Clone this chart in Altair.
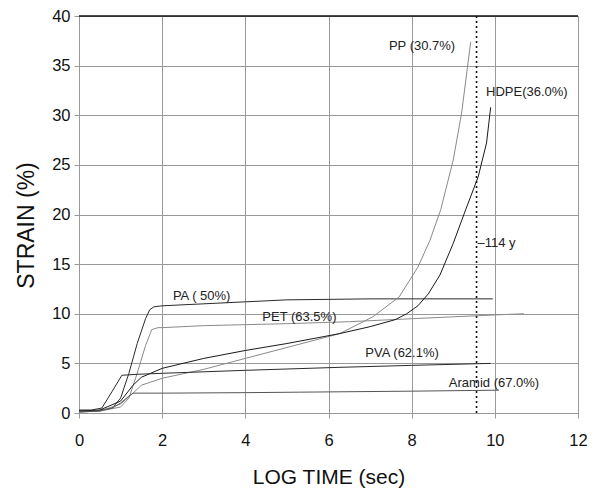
import altair as alt
import pandas as pd

# --- data ---
pa_x = [0.0, 0.4, 0.8, 1.0, 1.2, 1.4, 1.6, 1.7, 1.8, 2.0, 3.0, 4.0, 5.0, 7.0, 9.95]
pa_y = [0.2, 0.2, 0.5, 1.5, 4.0, 7.0, 9.5, 10.4, 10.7, 10.8, 11.0, 11.2, 11.4, 11.5, 11.5]

pet_x = [0.0, 0.5, 1.0, 1.2, 1.4, 1.6, 1.75, 1.9, 2.0, 3.0, 4.0, 5.0, 6.5, 8.0, 10.1, 10.7]
pet_y = [0.1, 0.2, 0.6, 1.5, 4.0, 6.8, 8.4, 8.6, 8.6, 8.8, 8.9, 9.0, 9.2, 9.5, 9.9, 10.0]

pp_x = [0.0, 0.5, 1.0, 1.3, 1.5, 2.0, 3.0, 4.0, 5.0, 6.27, 7.07, 7.7, 8.15, 8.44, 8.7, 9.0, 9.2, 9.42]
pp_y = [0.1, 0.2, 0.9, 2.0, 2.8, 3.5, 4.4, 5.5, 6.6, 8.0, 9.7, 11.7, 14.7, 17.4, 20.5, 25.5, 30.2, 37.4]

hdpe_x = [0.0, 0.5, 1.0, 1.3, 1.5, 2.0, 3.0, 4.0, 5.0, 6.27, 7.0, 7.6, 7.88, 8.15, 8.4, 8.68, 9.0, 9.3, 9.6, 9.8, 9.9]
hdpe_y = [0.2, 0.3, 1.2, 2.8, 3.6, 4.5, 5.5, 6.3, 7.0, 8.0, 8.7, 9.4, 10.0, 10.8, 12.0, 13.9, 17.1, 20.5, 23.8, 27.2, 30.8]

pva_x = [0.0, 0.3, 0.55, 0.8, 1.03, 1.4, 2.0, 4.0, 6.25, 8.0, 9.9]
pva_y = [0.3, 0.3, 0.5, 2.2, 3.8, 3.9, 4.0, 4.3, 4.6, 4.8, 5.0]

aramid_x = [0.0, 0.5, 0.8, 1.0, 1.2, 1.3, 2.0, 4.0, 5.3, 8.0, 10.1]
aramid_y = [0.1, 0.2, 0.5, 1.0, 1.7, 2.0, 2.0, 2.05, 2.1, 2.2, 2.3]

series = [
    ("PA", pa_x, pa_y),
    ("PET", pet_x, pet_y),
    ("PP", pp_x, pp_y),
    ("HDPE", hdpe_x, hdpe_y),
    ("PVA", pva_x, pva_y),
    ("Aramid", aramid_x, aramid_y),
]
names = [s[0] for s in series]
colors = ["#2a2a2a", "#8a8a8a", "#8a8a8a", "#1a1a1a", "#2a2a2a", "#555555"]

label_text = ["PP (30.7%)", "HDPE(36.0%)", "PA ( 50%)", "PET (63.5%)", "PVA (62.1%)", "Aramid (67.0%)"]
label_x = [8.25, 10.77, 2.95, 5.3, 7.77, 9.98]
label_y = [37.0, 32.3, 11.8, 9.7, 6.0, 3.0]

marker_x = [9.56]
marker_label = ["–114 y"]
marker_label_y = [17.1]

rows = []
for name, xs, ys in series:
    for i, (x, y) in enumerate(zip(xs, ys)):
        rows.append({"series": name, "x": x, "y": y, "order": i})
df = pd.DataFrame(rows)

xscale = alt.Scale(domain=[0, 12], nice=False)
yscale = alt.Scale(domain=[0, 40], nice=False)

common_axis = dict(labelFontSize=16.5, titleFontWeight="normal", tickSize=5,
                   domainColor="#999", tickColor="#999", gridColor="#999",
                   labelColor="#111", titleColor="#111", labelFlush=False,
                   labelFont="Liberation Sans", titleFont="Liberation Sans")

lines = alt.Chart(df).mark_line(strokeWidth=1).encode(
    x=alt.X("x:Q", scale=xscale,
            axis=alt.Axis(title="LOG TIME (sec)", values=[0, 2, 4, 6, 8, 10, 12],
                          format="d", titleFontSize=21, labelPadding=14,
                          titlePadding=18, **common_axis)),
    y=alt.Y("y:Q", scale=yscale,
            axis=alt.Axis(title="STRAIN (%)", values=[0, 5, 10, 15, 20, 25, 30, 35, 40],
                          titleFontSize=23, labelPadding=4, titlePadding=13,
                          titleY=209, **common_axis)),
    color=alt.Color("series:N", scale=alt.Scale(domain=names, range=colors), legend=None),
    order="order:Q",
    detail="series:N",
)

top_df = pd.DataFrame({"y": [40]})
top = alt.Chart(top_df).mark_rule(color="#111", strokeWidth=1.5).encode(y=alt.Y("y:Q", scale=yscale))

vdf = pd.DataFrame({"x": marker_x})
vline = alt.Chart(vdf).mark_rule(color="#111", strokeWidth=1.6, strokeDash=[2, 3]).encode(
    x=alt.X("x:Q", scale=xscale))

ldf = pd.DataFrame({"x": label_x, "y": label_y, "t": label_text})
labels = alt.Chart(ldf).mark_text(fontSize=13, font="Liberation Sans", color="#222",
                                  align="center", baseline="middle").encode(
    x=alt.X("x:Q", scale=xscale), y=alt.Y("y:Q", scale=yscale), text="t:N")

mdf = pd.DataFrame({"x": marker_x, "y": marker_label_y, "t": marker_label})
mlabel = alt.Chart(mdf).mark_text(fontSize=13, font="Liberation Sans", color="#222",
                                  align="left", baseline="middle", dx=1).encode(
    x=alt.X("x:Q", scale=xscale), y=alt.Y("y:Q", scale=yscale), text="t:N")

chart = alt.layer(lines, top, vline, labels, mlabel).properties(
    width=499, height=397,
    autosize=alt.AutoSizeParams(type="none"),
    padding={"left": 71, "top": 8, "right": 10, "bottom": 78},
).configure_view(stroke="#999", strokeWidth=1).configure_axis(grid=True, gridWidth=1)

chart.save("out.html", embed_options={"renderer": "svg", "actions": False})
